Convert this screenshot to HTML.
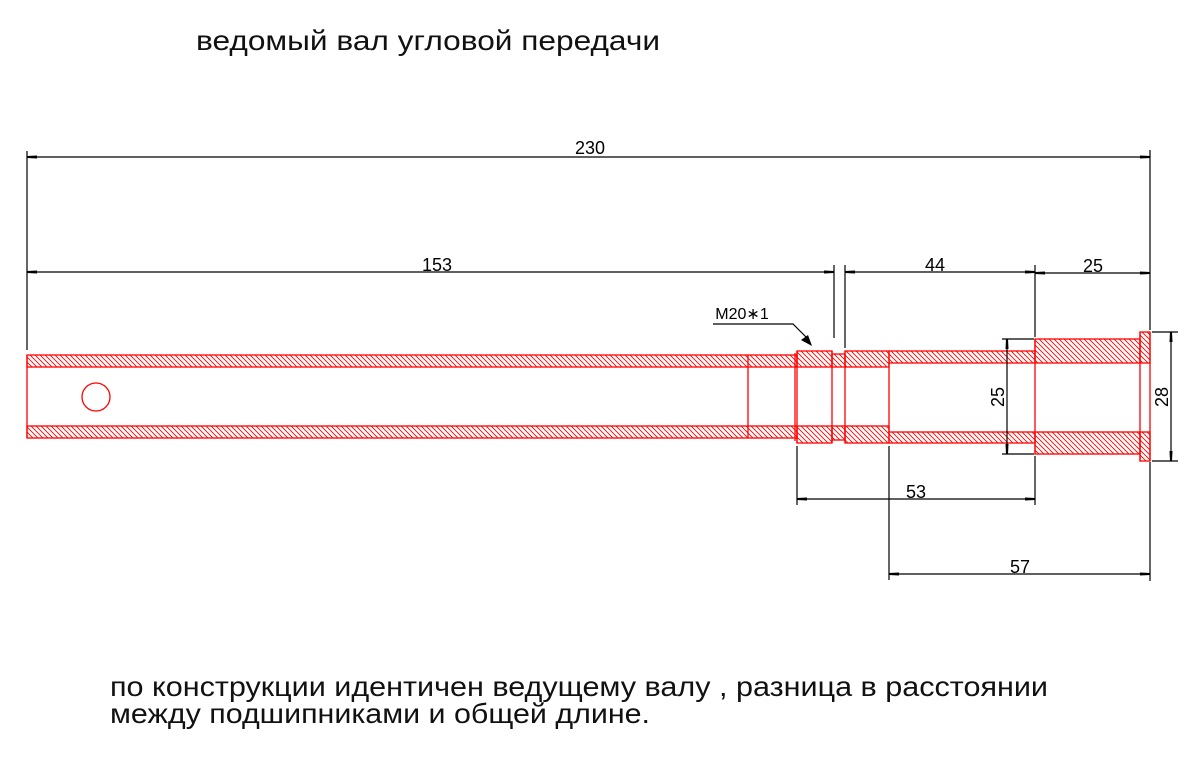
<!DOCTYPE html>
<html><head><meta charset="utf-8"><style>
html,body{margin:0;padding:0;background:#fff;}
svg{display:block;}
</style></head><body>
<svg width="1203" height="763" viewBox="0 0 1203 763" xmlns="http://www.w3.org/2000/svg">
<defs>
<pattern id="h" width="5" height="5" patternUnits="userSpaceOnUse">
<path d="M-1,-1 L6,6 M-1,4 L1,6 M4,-1 L6,1" stroke="#f00" stroke-width="0.9"/>
</pattern>
<marker id="a" viewBox="0 0 10 4" refX="10" refY="2" markerWidth="10" markerHeight="4" orient="auto-start-reverse" markerUnits="userSpaceOnUse">
<path d="M0,0.5 L10,1 L10,3 L0,3.5z" fill="#000"/>
</marker>
</defs>
<text x="196" y="50" font-family="Liberation Sans, sans-serif" font-size="28" textLength="464" lengthAdjust="spacingAndGlyphs" fill="#111">ведомый вал угловой  передачи</text>
<text x="110" y="696" font-family="Liberation Sans, sans-serif" font-size="28" textLength="938" lengthAdjust="spacingAndGlyphs" fill="#111">по конструкции идентичен ведущему валу , разница в расстоянии</text>
<text x="110" y="723" font-family="Liberation Sans, sans-serif" font-size="28" textLength="540" lengthAdjust="spacingAndGlyphs" fill="#111">между подшипниками и общей длине.</text>

<g stroke="#f00" stroke-width="1.3" fill="url(#h)">
<rect x="27" y="355" width="770" height="12"/>
<rect x="27" y="426" width="770" height="12"/>
<rect x="797" y="351" width="35" height="16"/>
<rect x="797" y="426" width="35" height="17"/>
<rect x="832" y="354" width="13" height="13"/>
<rect x="832" y="426" width="13" height="14"/>
<rect x="845" y="351" width="44" height="16"/>
<rect x="845" y="426" width="44" height="17"/>
<rect x="889" y="351" width="146" height="12"/>
<rect x="889" y="432" width="146" height="11"/>
<rect x="1035" y="339" width="105" height="24"/>
<rect x="1035" y="432" width="105" height="22"/>
<rect x="1140" y="332" width="10" height="31"/>
<rect x="1140" y="432" width="10" height="29"/>
</g>
<g stroke="#f00" stroke-width="1.3" fill="none">
<line x1="27" y1="355" x2="27" y2="438"/>
<line x1="748" y1="355" x2="748" y2="438"/>
<line x1="795" y1="353" x2="795" y2="441"/>
<line x1="797" y1="351" x2="797" y2="443"/>
<line x1="832" y1="351" x2="832" y2="443"/>
<line x1="845" y1="351" x2="845" y2="443"/>
<line x1="889" y1="363" x2="889" y2="432"/>
<line x1="1035" y1="339" x2="1035" y2="454"/>
<line x1="1140" y1="332" x2="1140" y2="461"/>
<line x1="1150" y1="332" x2="1150" y2="461"/>
<circle cx="96" cy="397" r="14"/>
</g>

<g stroke="#000" stroke-width="1.2" fill="none">
<line x1="27" y1="151" x2="27" y2="350"/>
<line x1="1150" y1="150" x2="1150" y2="330"/>
<line x1="1150" y1="462" x2="1150" y2="581"/>
<line x1="834" y1="265" x2="834" y2="338"/>
<line x1="845" y1="265" x2="845" y2="348"/>
<line x1="1035" y1="265" x2="1035" y2="337"/>
<line x1="1035" y1="456" x2="1035" y2="505"/>
<line x1="797" y1="446" x2="797" y2="505"/>
<line x1="889" y1="446" x2="889" y2="580"/>
<line x1="1002" y1="339" x2="1034" y2="339"/>
<line x1="1002" y1="454" x2="1034" y2="454"/>
<line x1="1152" y1="332" x2="1178" y2="332"/>
<line x1="1152" y1="461" x2="1178" y2="461"/>
<line x1="27" y1="157" x2="1150" y2="157" marker-start="url(#a)" marker-end="url(#a)"/>
<line x1="27" y1="272" x2="834" y2="272" marker-start="url(#a)" marker-end="url(#a)"/>
<line x1="845" y1="272" x2="1035" y2="272" marker-start="url(#a)" marker-end="url(#a)"/>
<line x1="1035" y1="273" x2="1150" y2="273" marker-start="url(#a)" marker-end="url(#a)"/>
<line x1="797" y1="499" x2="1035" y2="499" marker-start="url(#a)" marker-end="url(#a)"/>
<line x1="889" y1="574" x2="1150" y2="574" marker-start="url(#a)" marker-end="url(#a)"/>
<line x1="1007" y1="339" x2="1007" y2="454" marker-start="url(#a)" marker-end="url(#a)"/>
<line x1="1171" y1="332" x2="1171" y2="461" marker-start="url(#a)" marker-end="url(#a)"/>
<polyline points="713,324 793,324 806,337"/>
</g>
<path d="M801,340 L812,346 L808,335z" fill="#000"/>

<g font-family="Liberation Sans, sans-serif" font-size="18" fill="#000" text-anchor="middle">
<text x="590" y="154">230</text>
<text x="437" y="271">153</text>
<text x="935" y="271">44</text>
<text x="1093" y="272">25</text>
<text x="916" y="498">53</text>
<text x="1020" y="573">57</text>
<text x="742" y="319" font-size="16">M20∗1</text>
<text transform="translate(1004,397) rotate(-90)">25</text>
<text transform="translate(1168,397) rotate(-90)">28</text>
</g>
</svg>
</body></html>
